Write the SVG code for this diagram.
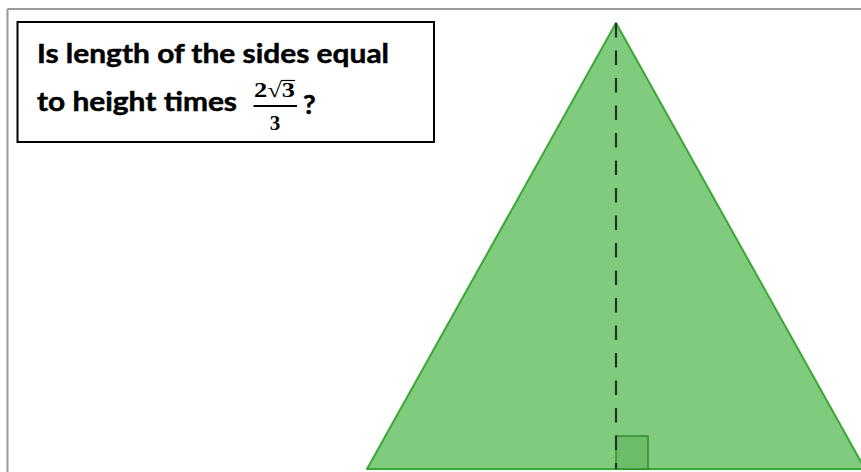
<svg xmlns="http://www.w3.org/2000/svg" width="861" height="472" viewBox="0 0 861 472">
<style>
.q{font-family:Lato,"Open Sans","Liberation Sans",sans-serif;font-weight:700;font-size:27.5px;fill:#000;stroke:#000;stroke-width:0.5}
.m{font-family:"Liberation Serif","DejaVu Serif",serif;font-weight:700;font-size:21px;fill:#000}
</style>
<rect width="861" height="472" fill="#fff"/>
<g id="frame">
<line x1="7.5" y1="9" x2="861" y2="9" stroke="#9a9a9a" stroke-width="2"/>
<line x1="7.5" y1="9" x2="7.5" y2="472" stroke="#9a9a9a" stroke-width="2"/>
</g>
<g id="triangle">
<polygon points="367,469 616,23 865,469" fill="#80cb7e" stroke="#3aa835" stroke-width="2" stroke-linejoin="round"/>
<rect x="616" y="436" width="32" height="33" fill="#6cbd69" stroke="#2f8f2c" stroke-width="1.5"/>
<line x1="616" y1="23" x2="616" y2="469" stroke="#1f3326" stroke-width="2.2" stroke-dasharray="14.5 13"/>
</g>
<g id="question">
<rect x="17.5" y="22" width="416.5" height="120" fill="#fff" stroke="#000" stroke-width="2"/>
<text class="q" x="37" y="63" textLength="352" lengthAdjust="spacingAndGlyphs">Is length of the sides equal</text>
<text class="q" x="37" y="111" textLength="200" lengthAdjust="spacingAndGlyphs">to height times</text>
<text class="m" x="254" y="97" textLength="41" lengthAdjust="spacingAndGlyphs">2√3</text>
<line x1="281" y1="80.5" x2="295" y2="80.5" stroke="#000" stroke-width="1.2"/>
<line x1="253.5" y1="106" x2="297" y2="106" stroke="#000" stroke-width="1.8"/>
<text class="m" x="275" y="130" text-anchor="middle">3</text>
<text class="q" x="303" y="114">?</text>
</g>
</svg>
